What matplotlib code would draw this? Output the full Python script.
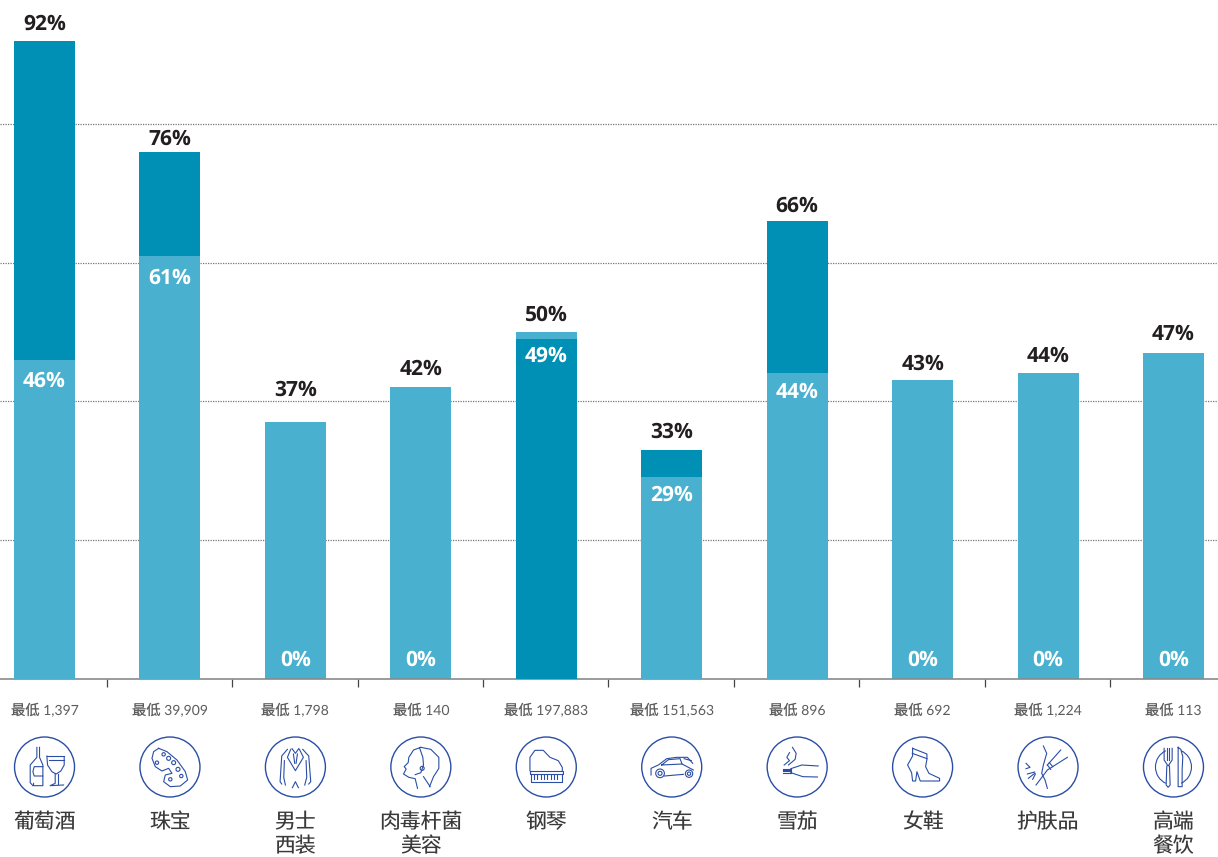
import matplotlib
matplotlib.use('Agg')
import matplotlib.pyplot as plt
from matplotlib.patches import Arc, Circle

plt.rcParams['font.family'] = ['Lato', 'Noto Sans CJK SC', 'DejaVu Sans']
plt.rcParams['text.hinting'] = 'no_hinting'
plt.rcParams['text.hinting_factor'] = 1

# DATA
categories = ['葡萄酒', '珠宝', '男士\n西装', '肉毒杆菌\n美容', '钢琴',
              '汽车', '雪茄', '女鞋', '护肤品', '高端\n餐饮']
minimums = ['1,397', '39,909', '1,798', '140', '197,883',
            '151,563', '896', '692', '1,224', '113']
light_values = [46, 61, 37, 42, 50, 29, 44, 43, 44, 47]
dark_values = [92, 76, 0, 0, 49, 33, 66, 0, 0, 0]
grid_values = [20, 40, 60, 80]

# gap in pixels between bar top and label centre, they differ in the original
top_gaps = [18, 14, 33, 19, 18, 19, 16, 18, 19, 20]
inner_gaps = [22, 23, 0, 0, 18, 18, 19, 0, 0, 0]

LIGHT = '#49b1cf'
DARK = '#0090b5'
ICON = '#2a4ea6'
BASE = 678.6
PCT_FONT = ['Open Sans', 'DejaVu Sans']

ICONS = [
    (133, 291, [
        [(110, 232), (110, 262), (90, 285), (90, 338), (98, 347)],
        [(118, 232), (118, 262), (128, 285), (128, 347), (100, 347), (100, 340)],
        [(128, 290), (102, 290), (98, 305), (102, 318), (128, 318)],
        [(140, 258), (190, 258)], [(145, 270), (192, 270)],
        [(140, 258), (142, 285), (155, 305), (168, 312), (182, 303), (192, 285), (192, 262)],
        [(165, 312), (165, 340), (150, 347), (190, 345)],
        [(172, 312), (172, 342)],
    ], []),
    (509, 291, [
        [(475, 235), (500, 245), (530, 270), (555, 305), (562, 330), (540, 348),
         (510, 350), (490, 335), (495, 315), (515, 310), (505, 295), (485, 303),
         (465, 290), (455, 265), (460, 245), (475, 235)],
    ], [(490, 253, 5), (505, 265, 6), (520, 278, 6), (533, 298, 6),
        (543, 318, 5), (510, 328, 5), (470, 278, 5)]),
    (886, 291, [
        [(862, 238), (845, 258), (840, 335), (845, 342)],
        [(908, 238), (926, 258), (932, 335), (926, 342)],
        [(853, 272), (851, 322), (856, 345)],
        [(918, 272), (920, 322), (914, 345)],
        [(872, 238), (862, 262), (868, 272), (886, 302), (904, 272), (910, 262), (898, 238)],
        [(876, 236), (886, 250), (896, 236)],
        [(880, 252), (884, 280)], [(892, 252), (888, 280)],
        [(877, 353), (886, 335), (895, 353)],
    ], []),
    (1262, 291, [
        [(1262, 232), (1292, 238), (1316, 262), (1316, 295), (1300, 320), (1288, 350)],
        [(1262, 232), (1240, 240), (1226, 262), (1224, 278), (1212, 290), (1218, 297),
         (1210, 312), (1226, 322), (1245, 326), (1252, 355)],
        [(1258, 233), (1268, 262), (1270, 285), (1262, 308), (1245, 314)],
        [(1270, 320), (1290, 350)],
    ], [(1266, 295, 6)]),
    (199, 291, [
        [(150, 302), (150, 262), (165, 241), (190, 241), (210, 262), (235, 272),
         (247, 292), (247, 302)],
        [(149, 303), (248, 303), (248, 312), (149, 312), (149, 303)],
        [(152, 312), (152, 335), (245, 335), (245, 312)],
        [(162, 314), (162, 328)], [(172, 314), (172, 328)], [(182, 314), (182, 328)],
        [(192, 314), (192, 328)], [(202, 314), (202, 328)], [(212, 314), (212, 328)],
        [(222, 314), (222, 328)], [(232, 314), (232, 328)],
    ], []),
    (575, 291, [
        [(513, 315), (513, 295), (535, 285), (560, 266), (590, 262), (622, 262), (638, 280)],
        [(553, 318), (610, 313)],
        [(545, 285), (565, 269), (600, 266), (606, 282), (545, 285)],
        [(606, 282), (640, 300)],
        [(612, 266), (634, 272)],
    ], [(540, 310, 13), (540, 310, 6), (627, 311, 11), (627, 311, 5)]),
    (951, 291, [
        [(932, 296), (965, 285), (1014, 288)],
        [(932, 308), (968, 320), (1012, 321)],
        [(910, 296), (930, 296)], [(910, 300), (930, 300)],
        [(910, 304), (930, 304)], [(910, 308), (930, 308)],
        [(932, 296), (932, 308)],
        [(912, 285), (928, 272), (920, 262), (928, 248)],
        [(925, 285), (945, 268), (948, 250), (937, 232)],
    ], []),
    (1327, 291, [
        [(1297, 235), (1340, 252), (1340, 268), (1336, 290), (1346, 310), (1378, 325),
         (1378, 333), (1320, 333), (1310, 305), (1306, 333), (1297, 333), (1294, 308),
         (1282, 285), (1297, 258), (1297, 235)],
        [(1296, 250), (1340, 266)],
    ], []),
    (264, 291, [
        [(250, 228), (260, 250), (250, 285), (245, 310), (255, 330), (262, 355)],
        [(228, 345), (262, 300), (322, 262)],
        [(262, 285), (302, 240)],
        [(262, 285), (272, 298)], [(268, 278), (278, 290)],
        [(198, 280), (210, 292), (198, 296)],
        [(202, 312), (224, 306)], [(205, 325), (224, 310)], [(218, 328), (226, 312)],
    ], []),
    (640, 291, [
        [(612, 235), (612, 270), (624, 288), (636, 270), (636, 235)],
        [(620, 235), (620, 270)], [(628, 235), (628, 270)],
        [(620, 288), (618, 345), (624, 352), (630, 345), (628, 288)],
        [(654, 232), (654, 350), (666, 350), (666, 300), (668, 260), (662, 238), (654, 232)],
    ], []),
]

fig = plt.figure(figsize=(12.18, 8.57), dpi=100)
ax = fig.add_axes([0, 1 - BASE / 857, 1, BASE / 857])
ax.set_xlim(-0.355, 9.355)
ax.set_ylim(0, BASE / 6.935)

for value in grid_values:
    ax.axhline(value, color='#777777', lw=0.9, ls=(0, (1, 1)), zorder=1)

for i, (light, dark) in enumerate(zip(light_values, dark_values)):
    low, high = sorted([light, dark])
    high_color = DARK if dark > light else LIGHT
    low_color = LIGHT if dark > light else DARK
    ax.bar(i, high, width=0.486, color=high_color, zorder=2)
    if low > 0:
        ax.bar(i, low, width=0.486, color=low_color, zorder=3)
    ax.annotate(f'{high}%', (i, high), xytext=(0, (top_gaps[i] - 1.5) * 0.72),
                textcoords='offset points', ha='center', va='center',
                fontsize=15, fontweight='bold', color='#231f20', family=PCT_FONT)
    if low > 0:
        ax.annotate(f'{low}%', (i, low), xytext=(0, -(inner_gaps[i] - 0.5) * 0.72),
                    textcoords='offset points', ha='center', va='center',
                    fontsize=15, fontweight='bold', color='white', zorder=5,
                    family=PCT_FONT)
    else:
        ax.annotate('0%', (i, 0), xytext=(0, 18.5 * 0.72),
                    textcoords='offset points', ha='center', va='center',
                    fontsize=15, fontweight='bold', color='white', zorder=5,
                    family=PCT_FONT)
    ax.annotate(f'最低 {minimums[i]}', (i, 0), xytext=(0, -31.5 * 0.72),
                textcoords='offset points', ha='center', va='center',
                fontsize=10.3, color='#5c5c5c')
    ax.annotate(categories[i], (i, 0), xytext=(0, -134 * 0.72),
                textcoords='offset points', ha='center', va='top',
                fontsize=15, color='#3a3a3a', linespacing=1.3,
                annotation_clip=False)

ax.set_yticks([])
ax.set_xticks([])
ax.set_xticks([i + 0.496 for i in range(9)], minor=True)
ax.tick_params(axis='x', which='minor', length=5.5, width=0.9, color='#444444')
for side in ['top', 'left', 'right']:
    ax.spines[side].set_visible(False)
ax.spines['bottom'].set_color('#8a8a8a')
ax.spines['bottom'].set_linewidth(1.2)

# ICONS, in pixel coordinates on top of the figure
over = fig.add_axes([0, 0, 1, 1])
over.set_xlim(0, 1218)
over.set_ylim(857, 0)
over.axis('off')
over.patch.set_alpha(0)

for i, (zx, zy, lines, rings) in enumerate(ICONS):
    cx = ax.transData.transform((i, 0))[0]
    cy = 767
    over.add_patch(Circle((cx, cy), 30, fill=False, ec=ICON, lw=1.0))
    for line in lines:
        xs = [cx + (p[0] - zx) / 3 for p in line]
        ys = [cy + (p[1] - zy) / 3 for p in line]
        over.plot(xs, ys, color=ICON, lw=0.8, solid_joinstyle='round')
    for rx, ry, r in rings:
        over.add_patch(Circle((cx + (rx - zx) / 3, cy + (ry - zy) / 3), r / 3,
                              fill=False, ec=ICON, lw=0.8))
    if i == 9:
        # plate behind the cutlery
        over.add_patch(Arc((cx, cy), 36, 36, theta1=-65, theta2=65, ec=ICON, lw=0.8))
        over.add_patch(Arc((cx, cy), 36, 36, theta1=115, theta2=245, ec=ICON, lw=0.8))

fig.savefig('out.png', dpi=100)
